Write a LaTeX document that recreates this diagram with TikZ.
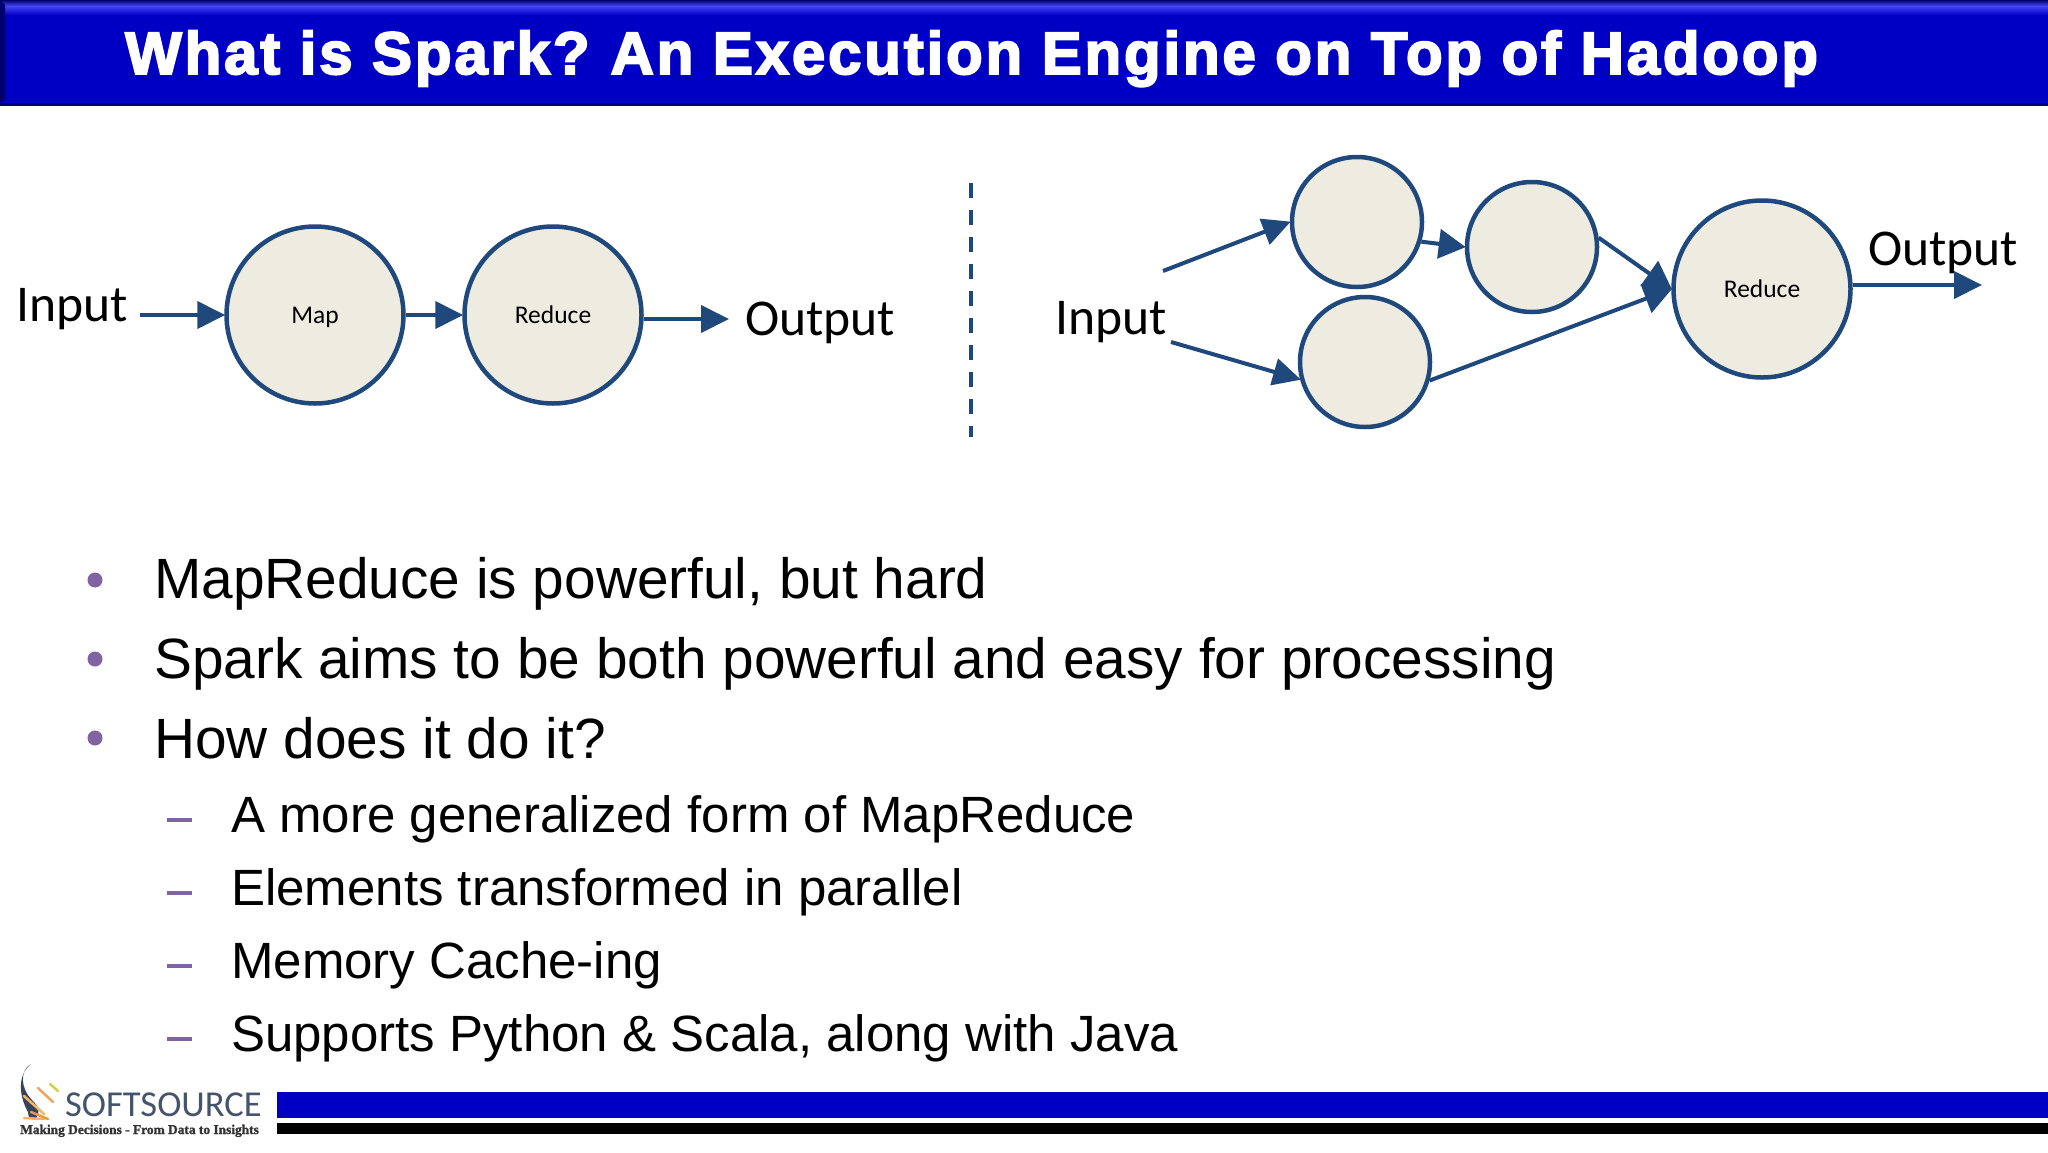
\documentclass[tikz,border=0pt]{standalone}
\usepackage{fontspec}
\setmainfont{Liberation Sans}
\newfontfamily\calf{Carlito}
\newfontfamily\titlef[LetterSpace=4.7,BoldFeatures={FakeBold=3.2}]{Liberation Sans}
\newfontfamily\tagf[BoldFeatures={FakeBold=1.5}]{Liberation Serif}
\usetikzlibrary{arrows.meta,shadings}
\definecolor{barblue}{HTML}{0000C4}
\definecolor{flow}{HTML}{1F497D}
\definecolor{cream}{HTML}{EEECE1}
\definecolor{bul}{HTML}{8064A2}
\definecolor{logoslate}{HTML}{44546F}
\definecolor{barlight}{HTML}{4444F8}
\definecolor{bardark}{HTML}{00006E}
\tikzset{
  stage/.style={circle,draw=flow,line width=4.5pt,fill=cream,inner sep=0pt,text height=16pt,text depth=0pt,font=\calf\fontsize{25.5}{28}\selectfont},
  bigc/.style={stage,minimum size=177pt},
  smallc/.style={stage,minimum size=130pt},
  flowarrow/.style={draw=flow,line width=4pt,-{Triangle[length=28pt,width=27pt]},shorten >=-1pt},
  joinarrow/.style={draw=flow,line width=4pt,-{Triangle[length=28pt,width=30pt]},shorten >=-1pt},
  lab/.style={font=\calf\fontsize{51.6}{56}\selectfont,inner sep=0pt,text=black},
  mainitem/.style={anchor=base west,inner sep=0pt,font=\fontsize{56.8}{64}\selectfont},
  subitem/.style={anchor=base west,inner sep=0pt,font=\fontsize{51}{58}\selectfont},
  dotmark/.style={circle,fill=bul,inner sep=0pt,minimum size=15pt},
  dashmark/.style={fill=bul,inner sep=0pt,minimum width=25pt,minimum height=3.5pt}
}
\begin{document}
\begin{tikzpicture}[x=1pt,y=-1pt]
\useasboundingbox (0,0) rectangle (2048,1152);
\fill[white] (0,0) rectangle (2048,1152);
% title bar
\fill[barblue] (0,0) rectangle (2048,105);
\shade[top color=bardark,bottom color=barlight] (0,0) rectangle (2048,6);
\shade[top color=barlight,bottom color=barblue] (0,6) rectangle (2048,15);
\fill[bardark] (0,0) -- (5,5) -- (5,98) -- (0,105) -- cycle;
\fill[bardark] (0,103) rectangle (2048,105.5);
\node[anchor=base west,inner sep=0pt,text=white,font=\titlef\bfseries\fontsize{60}{66}\selectfont] (title) at (125,74) {What is Spark?\kern-5pt{} An Execution Engine on Top of Hadoop};
% left flow
\node[bigc] (map) at (315,315) {Map};
\node[bigc] (red) at (553,315) {Reduce};
\node[lab,anchor=west] (in1) at (16,309) {Input};
\node[lab,anchor=west] (out1) at (745,323) {Output};
\coordinate (in1e) at (140,315);
\coordinate (out1e) at (728,319);
\draw[flowarrow] (in1e) -- (map.west);
\draw[flowarrow] (map.east) -- (red.west);
\draw[flowarrow] (red.east |- out1e) -- (out1e);
% divider
\coordinate (d1) at (971,183);
\coordinate (d2) at (971,437);
\draw[flow,line width=4.5pt,dash pattern=on 15pt off 12pt] (d1) -- (d2);
% right flow
\node[smallc] (c1) at (1357,222) {};
\node[smallc] (c2) at (1532,247) {};
\node[smallc] (c3) at (1365,362) {};
\node[bigc] (red2) at (1762,289) {Reduce};
\node[lab,anchor=west] (in2) at (1055,322) {Input};
\coordinate (in2a) at (1163,271);
\coordinate (in2b) at (1171,342);
\coordinate (out2e) at (1981,285);
\draw[flowarrow] (in2a) -- (c1.west);
\draw[flowarrow] (in2b) -- (c3.195);
\draw[flowarrow,{}-{Triangle[length=27pt,width=29pt]}] (c1.-17) -- (c2.west);
\draw[joinarrow] (c2.8) -- (red2.west);
\draw[joinarrow] (c3.-16) -- (red2.west);
\draw[flowarrow] (red2.east |- out2e) -- (out2e);
\node[lab,anchor=west] (out2) at (1868,253) {Output};
% bullets
\node[dotmark] (b1) at (95,580) {};
\node[dotmark] (b2) at (95,659) {};
\node[dotmark] (b3) at (95,738) {};
\node[mainitem] (t1) at (154,598) {MapReduce is powerful, but hard};
\node[mainitem] (t2) at (154,678) {Spark aims to be both powerful and easy for processing};
\node[mainitem] (t3) at (154,758) {How does it do it?};
\node[dashmark] (s1) at (179,820) {};
\node[dashmark] (s2) at (179,893) {};
\node[dashmark] (s3) at (179,966) {};
\node[dashmark] (s4) at (179,1039) {};
\node[subitem] (u1) at (231,832) {A more generalized form of MapReduce};
\node[subitem] (u2) at (231,905) {Elements transformed in parallel};
\node[subitem] (u3) at (231,978) {Memory Cache-ing};
\node[subitem] (u4) at (231,1051) {Supports Python \& Scala, along with Java};
% footer bars
\fill[barblue] (277,1092) rectangle (2048,1118);
\fill[black] (277,1123) rectangle (2048,1134);
% logo
\fill[logoslate!80!black] (31,1064) .. controls (20,1070) and (20,1088) .. (32,1100) .. controls (39,1107) and (41,1112) .. (36,1118) .. controls (30,1122) and (28,1116) .. (28,1112) .. controls (20,1098) and (16,1076) .. (31,1064) -- cycle;
\foreach \xa/\ya/\xb/\yb/\c in {24/1096/44/1114/orange!60,38/1088/53/1102/orange!60!brown!70,50/1084/58/1091/olive!50!yellow!70,24/1118/44/1119/orange!60,31/1112/48/1119/orange!50!brown!80}
  \draw[\c,line width=2.5pt,line cap=round] (\xa,\ya) -- (\xb,\yb);
\node[anchor=base west,inner sep=0pt,text=logoslate,font=\calf\fontsize{36.5}{40}\selectfont] (logo) at (65,1116) {SOFTSOURCE};
\node[anchor=base west,inner sep=0pt,text=black!80,font=\tagf\bfseries\fontsize{13.4}{15}\selectfont] (tag) at (20,1134) {Making Decisions - From Data to Insights};
\end{tikzpicture}
\end{document}
